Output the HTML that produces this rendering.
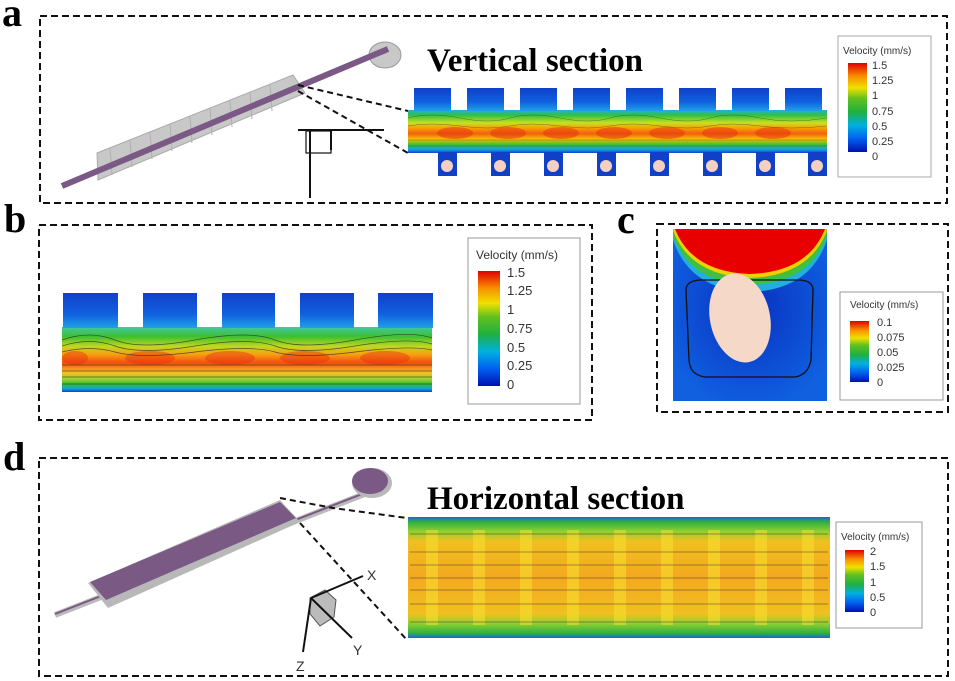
<!DOCTYPE html>
<html><head><meta charset="utf-8"><style>
html,body{margin:0;padding:0;background:#fff;}
svg{display:block;}
.lbl{font-family:"Liberation Serif",serif;font-weight:bold;}
.lg{font-family:"Liberation Sans",sans-serif;fill:#333;}
</style></head><body>
<svg width="955" height="681" viewBox="0 0 955 681" xmlns="http://www.w3.org/2000/svg">
<defs>
<linearGradient id="chA" x1="0" y1="0" x2="0" y2="1">
<stop offset="0" stop-color="#20b0e0"/><stop offset="0.12" stop-color="#30c040"/><stop offset="0.3" stop-color="#c8e020"/><stop offset="0.42" stop-color="#f8a000"/><stop offset="0.55" stop-color="#f06010"/><stop offset="0.68" stop-color="#f8c000"/><stop offset="0.8" stop-color="#40c030"/><stop offset="0.92" stop-color="#10a0e0"/><stop offset="1" stop-color="#1040d0"/>
</linearGradient>
<linearGradient id="chB" x1="0" y1="0" x2="0" y2="1">
<stop offset="0" stop-color="#40c8a0"/><stop offset="0.15" stop-color="#40c030"/><stop offset="0.3" stop-color="#c0d820"/><stop offset="0.42" stop-color="#f8a010"/><stop offset="0.55" stop-color="#f05010"/><stop offset="0.7" stop-color="#f8c020"/><stop offset="0.8" stop-color="#a0d030"/><stop offset="0.88" stop-color="#30c030"/><stop offset="0.95" stop-color="#10a0e0"/><stop offset="1" stop-color="#1040d0"/>
</linearGradient>
<linearGradient id="blk" x1="0" y1="0" x2="0" y2="1">
<stop offset="0" stop-color="#1040c8"/><stop offset="0.6" stop-color="#1060e0"/><stop offset="1" stop-color="#20a0e8"/>
</linearGradient>
<linearGradient id="chD" x1="0" y1="0" x2="0" y2="1">
<stop offset="0" stop-color="#2060e0"/><stop offset="0.04" stop-color="#30b040"/><stop offset="0.12" stop-color="#90d030"/><stop offset="0.2" stop-color="#f0c020"/><stop offset="0.5" stop-color="#f4a820"/><stop offset="0.8" stop-color="#f0c020"/><stop offset="0.88" stop-color="#90d030"/><stop offset="0.96" stop-color="#30b040"/><stop offset="1" stop-color="#2060e0"/>
</linearGradient>
<linearGradient id="jet" x1="0" y1="1" x2="0" y2="0">
<stop offset="0" stop-color="#0010b0"/><stop offset="0.15" stop-color="#0060f0"/><stop offset="0.3" stop-color="#00b0e0"/><stop offset="0.45" stop-color="#20b040"/><stop offset="0.6" stop-color="#60c020"/><stop offset="0.72" stop-color="#f0e000"/><stop offset="0.85" stop-color="#f89000"/><stop offset="1" stop-color="#e00000"/>
</linearGradient>
<radialGradient id="cblue" cx="0.5" cy="0.45" r="0.6">
<stop offset="0" stop-color="#0830c0"/><stop offset="1" stop-color="#1060e0"/>
</radialGradient>
<pattern id="stripes" width="47" height="200" patternUnits="userSpaceOnUse" x="408">
<rect width="47" height="200" fill="none"/><rect x="18" width="12" height="200" fill="#f8e030" opacity="0.55"/>
</pattern>
</defs>

<text class="lbl" x="2" y="26" font-size="40">a</text>
<text class="lbl" x="4" y="232" font-size="40">b</text>
<text class="lbl" x="617" y="233" font-size="40">c</text>
<text class="lbl" x="3" y="470" font-size="40">d</text>

<g fill="none" stroke="#111" stroke-width="2" stroke-dasharray="7,4">
<rect x="40" y="16" width="907" height="187"/>
<rect x="39" y="225" width="553" height="195"/>
<rect x="657" y="224" width="291" height="188"/>
<rect x="39" y="458" width="909" height="218"/>
</g>

<!-- Panel a device -->
<polygon points="97,153 293,75 305,93 98,180" fill="#c8c8c8" stroke="#aaa"/>
<g stroke="#b0b0b0" stroke-width="1">
<line x1="110" y1="148" x2="112" y2="175"/><line x1="130" y1="140" x2="132" y2="167"/><line x1="150" y1="132" x2="152" y2="159"/><line x1="170" y1="124" x2="172" y2="151"/><line x1="190" y1="116" x2="192" y2="143"/><line x1="210" y1="108" x2="212" y2="135"/><line x1="230" y1="100" x2="232" y2="127"/><line x1="250" y1="92" x2="252" y2="119"/><line x1="270" y1="84" x2="272" y2="111"/>
</g>
<ellipse cx="385" cy="55" rx="16" ry="13" fill="#c8c8c8" stroke="#999"/>
<line x1="62" y1="186" x2="388" y2="49" stroke="#7a5a85" stroke-width="6"/>
<g stroke="#111" stroke-width="2" fill="none">
<line x1="298" y1="130" x2="384" y2="130"/>
<line x1="310" y1="130" x2="310" y2="198"/>
<rect x="306" y="131" width="25" height="22" stroke-width="1.2"/>
<line x1="331" y1="130" x2="331" y2="150"/>
<line x1="298" y1="85" x2="408" y2="111" stroke-dasharray="6,4"/>
<line x1="298" y1="91" x2="408" y2="153" stroke-dasharray="6,4"/>
</g>
<text class="lbl" x="427" y="71" font-size="33">Vertical section</text>

<rect x="408" y="110" width="419" height="43" fill="url(#chA)"/>
<g fill="url(#blk)">
<rect x="414" y="88" width="37" height="23"/><rect x="467" y="88" width="37" height="23"/><rect x="520" y="88" width="37" height="23"/><rect x="573" y="88" width="37" height="23"/><rect x="626" y="88" width="37" height="23"/><rect x="679" y="88" width="37" height="23"/><rect x="732" y="88" width="37" height="23"/><rect x="785" y="88" width="37" height="23"/>
</g>
<g fill="#1040c8">
<rect x="438" y="152" width="19" height="24"/><rect x="491" y="152" width="19" height="24"/><rect x="544" y="152" width="19" height="24"/><rect x="597" y="152" width="19" height="24"/><rect x="650" y="152" width="19" height="24"/><rect x="703" y="152" width="19" height="24"/><rect x="756" y="152" width="19" height="24"/><rect x="808" y="152" width="19" height="24"/>
</g>
<g fill="#f5d0c0">
<circle cx="447" cy="166" r="6"/><circle cx="500" cy="166" r="6"/><circle cx="553" cy="166" r="6"/><circle cx="606" cy="166" r="6"/><circle cx="659" cy="166" r="6"/><circle cx="712" cy="166" r="6"/><circle cx="765" cy="166" r="6"/><circle cx="817" cy="166" r="6"/>
</g>
<g fill="#e83010" opacity="0.5">
<ellipse cx="455" cy="133" rx="18" ry="6"/><ellipse cx="508" cy="133" rx="18" ry="6"/><ellipse cx="561" cy="133" rx="18" ry="6"/><ellipse cx="614" cy="133" rx="18" ry="6"/><ellipse cx="667" cy="133" rx="18" ry="6"/><ellipse cx="720" cy="133" rx="18" ry="6"/><ellipse cx="773" cy="133" rx="18" ry="6"/>
</g>
<g stroke="#333" stroke-width="0.5" fill="none" opacity="0.6">
<path d="M408,118 Q430,112 460,118 T510,118 T560,118 T610,118 T660,118 T710,118 T760,118 T827,118"/>
<path d="M408,126 Q430,122 460,126 T510,126 T560,126 T610,126 T660,126 T710,126 T760,126 T827,126"/>
<path d="M408,140 L827,140"/><path d="M408,146 L827,146"/>
</g>
<rect x="838" y="36" width="93" height="141" fill="#fff" stroke="#aaa"/>
<text class="lg" x="843" y="54" font-size="10">Velocity (mm/s)</text>
<rect x="848" y="63" width="19" height="89" fill="url(#jet)"/>
<g class="lg" font-size="11">
<text x="872" y="69">1.5</text><text x="872" y="84">1.25</text><text x="872" y="99">1</text><text x="872" y="115">0.75</text><text x="872" y="130">0.5</text><text x="872" y="145">0.25</text><text x="872" y="160">0</text>
</g>

<!-- Panel b -->
<rect x="62" y="327" width="370" height="65" fill="url(#chB)"/>
<g fill="url(#blk)">
<rect x="63" y="293" width="55" height="35"/><rect x="143" y="293" width="54" height="35"/><rect x="222" y="293" width="53" height="35"/><rect x="300" y="293" width="54" height="35"/><rect x="378" y="293" width="55" height="35"/>
</g>
<g fill="#e83010" opacity="0.45">
<ellipse cx="75" cy="358" rx="13" ry="7"/><ellipse cx="150" cy="358" rx="25" ry="7"/><ellipse cx="230" cy="358" rx="25" ry="7"/><ellipse cx="305" cy="358" rx="25" ry="7"/><ellipse cx="385" cy="358" rx="25" ry="7"/>
</g>
<g stroke="#222" stroke-width="0.7" fill="none" opacity="0.7">
<path d="M62,340 Q90,330 115,340 T195,340 T275,340 T355,340 T432,338"/>
<path d="M62,346 Q90,337 115,346 T195,346 T275,346 T355,346 T432,344"/>
<path d="M62,352 Q90,345 115,352 T195,352 T275,352 T355,352 T432,350"/>
<path d="M62,365 L432,365"/><path d="M62,371 L432,371"/><path d="M62,377 L432,377"/><path d="M62,384 L432,384"/>
</g>
<rect x="468" y="238" width="112" height="166" fill="#fff" stroke="#999"/>
<text class="lg" x="476" y="259" font-size="12">Velocity (mm/s)</text>
<rect x="478" y="271" width="22" height="115" fill="url(#jet)"/>
<g class="lg" font-size="13">
<text x="507" y="277">1.5</text><text x="507" y="295">1.25</text><text x="507" y="314">1</text><text x="507" y="333">0.75</text><text x="507" y="352">0.5</text><text x="507" y="370">0.25</text><text x="507" y="389">0</text>
</g>

<!-- Panel c -->
<rect x="673" y="229" width="154" height="172" fill="url(#cblue)"/>
<path d="M673,229 L827,229 L827,240 Q810,290 750,292 Q690,290 673,240 Z" fill="#20b0e0"/>
<path d="M673,229 L827,229 L827,236 Q810,283 750,285 Q690,283 673,236 Z" fill="#40c040"/>
<path d="M673,229 L827,229 L826,233 Q808,276 750,278 Q692,276 674,233 Z" fill="#f0d000"/>
<path d="M675,229 L825,229 Q808,272 750,274 Q692,272 675,229 Z" fill="#e80000"/>
<path d="M686,290 Q686,281 700,280 L800,280 Q813,281 813,290 L811,360 Q808,375 795,377 L705,377 Q690,375 689,360 Z" fill="none" stroke="#111" stroke-width="1.3"/>
<ellipse cx="740" cy="318" rx="30" ry="45" fill="#f6d8c8" transform="rotate(-12 740 318)"/>
<rect x="840" y="292" width="103" height="108" fill="#fff" stroke="#999"/>
<text class="lg" x="850" y="308" font-size="10">Velocity (mm/s)</text>
<rect x="850" y="321" width="19" height="61" fill="url(#jet)"/>
<g class="lg" font-size="11">
<text x="877" y="326">0.1</text><text x="877" y="341">0.075</text><text x="877" y="356">0.05</text><text x="877" y="371">0.025</text><text x="877" y="386">0</text>
</g>

<!-- Panel d -->
<line x1="55" y1="615" x2="385" y2="486" stroke="#bbb" stroke-width="6"/>
<line x1="55" y1="614" x2="385" y2="485" stroke="#7a5a85" stroke-width="2"/>
<polygon points="88,583 280,500 300,522 108,608" fill="#b8b8b8"/>
<polygon points="90,582 280,502 296,518 106,600" fill="#7a5a85"/>
<ellipse cx="372" cy="483" rx="20" ry="15" fill="#b8b8b8"/>
<ellipse cx="370" cy="481" rx="18" ry="13" fill="#7a5a85"/>
<polygon points="310,598 325,590 336,600 334,617 320,626 310,614" fill="#bbb" stroke="#555"/>
<g stroke="#111" stroke-width="2" fill="none">
<line x1="311" y1="598" x2="363" y2="576"/>
<line x1="311" y1="598" x2="352" y2="638"/>
<line x1="311" y1="598" x2="303" y2="652"/>
<polyline points="280,498 333,508 407,518" stroke-dasharray="6,4"/>
<line x1="300" y1="523" x2="407" y2="640" stroke-dasharray="6,4"/>
</g>
<g class="lg" font-size="14" fill="#222">
<text x="367" y="580">X</text><text x="353" y="655">Y</text><text x="296" y="671">Z</text>
</g>
<text class="lbl" x="427" y="509" font-size="33">Horizontal section</text>
<rect x="408" y="517" width="422" height="121" fill="url(#chD)"/>
<rect x="408" y="530" width="422" height="95" fill="url(#stripes)"/>
<g stroke="#222" stroke-width="0.8" opacity="0.55">
<line x1="410" y1="534" x2="828" y2="534"/><line x1="410" y1="552" x2="828" y2="552"/><line x1="410" y1="565" x2="828" y2="565"/><line x1="410" y1="578" x2="828" y2="578"/><line x1="410" y1="590" x2="828" y2="590"/><line x1="410" y1="604" x2="828" y2="604"/><line x1="410" y1="622" x2="828" y2="622"/>
</g>
<rect x="836" y="522" width="86" height="106" fill="#fff" stroke="#999"/>
<text class="lg" x="841" y="540" font-size="10">Velocity (mm/s)</text>
<rect x="845" y="550" width="19" height="62" fill="url(#jet)"/>
<g class="lg" font-size="11">
<text x="870" y="555">2</text><text x="870" y="570">1.5</text><text x="870" y="586">1</text><text x="870" y="601">0.5</text><text x="870" y="616">0</text>
</g>
</svg>
</body></html>
